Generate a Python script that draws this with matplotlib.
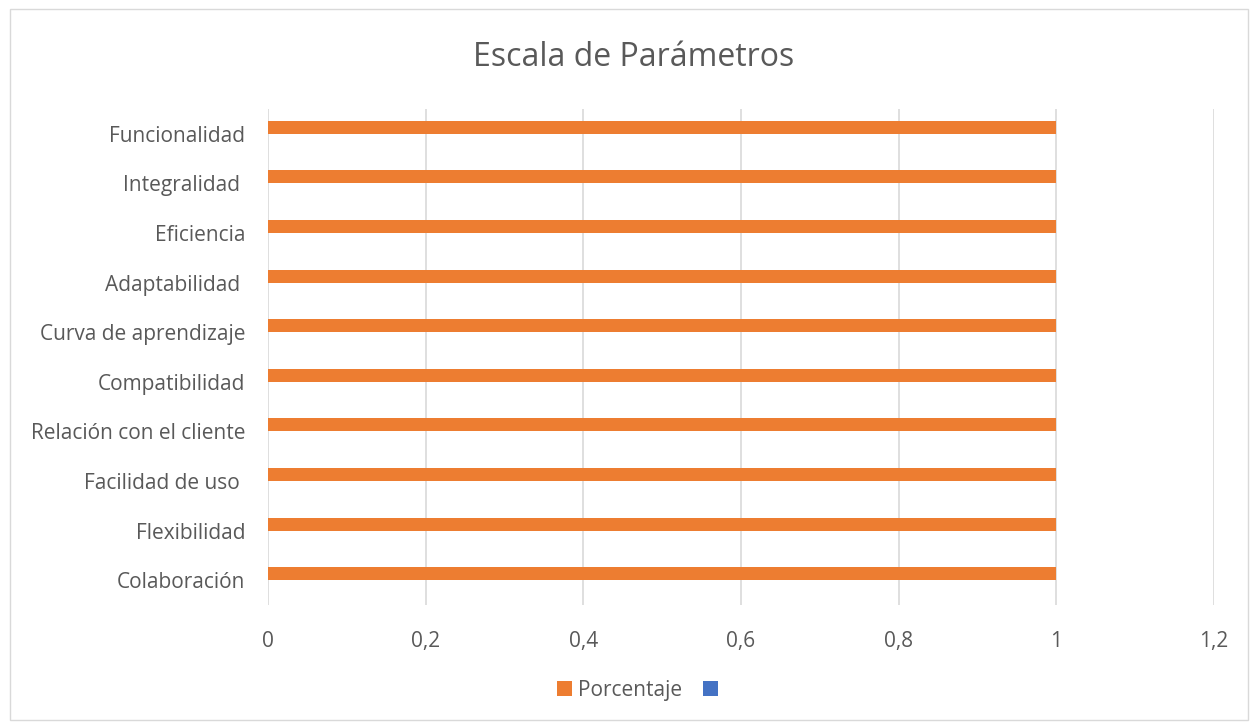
import matplotlib
matplotlib.use("Agg")
import matplotlib.pyplot as plt
from matplotlib.patches import Patch, Rectangle

categories = ["Colaboración", "Flexibilidad", "Facilidad de uso ", "Relación con el cliente",
              "Compatibilidad", "Curva de aprendizaje", "Adaptabilidad ", "Eficiencia",
              "Integralidad ", "Funcionalidad"]
porcentaje = [1, 1, 1, 1, 1, 1, 1, 1, 1, 1]
x_ticks = [0, 0.2, 0.4, 0.6, 0.8, 1.0, 1.2]
x_labels = ["0", "0,2", "0,4", "0,6", "0,8", "1", "1,2"]
series_names = ["Porcentaje", ""]

plt.rcParams['font.family'] = ['Open Sans', 'DejaVu Sans']
txt = "#595959"

fig = plt.figure(figsize=(12.5, 7.23), dpi=100)
fig.patches.append(Rectangle((0.008, 0.004), 0.99, 0.984, transform=fig.transFigure,
                             fill=False, edgecolor="#D9D9D9", linewidth=1))
ax = fig.add_axes([0.2144, 0.1632, 0.7568, 0.686])

y = list(range(len(categories)))
bh = 0.262
# clustered bars: first series sits in the upper half of each cluster, second (empty) below
ax.barh([v + bh / 2 for v in y], porcentaje, height=bh, color="#ED7D31", zorder=3)
ax.set_ylim(-0.5, len(categories) - 0.5)
ax.set_xlim(0, 1.2)
ax.set_xticks(x_ticks)
ax.set_xticklabels(x_labels, color=txt, fontsize=15)
ax.set_yticks(y)
ax.set_yticklabels(categories, color=txt, fontsize=15)
ax.tick_params(axis='both', length=0)
ax.tick_params(axis='x', pad=19)
ax.tick_params(axis='y', pad=16.5)
ax.grid(axis='x', color="#D9D9D9", linewidth=1.2, zorder=0)
for s in ax.spines.values():
    s.set_visible(False)

fig.text(0.507, 0.920, "Escala de Parámetros", ha='center', va='center', fontsize=23, color=txt)

handles = [Patch(facecolor="#ED7D31"), Patch(facecolor="#4472C4")]
fig.legend(handles, series_names, loc='center', bbox_to_anchor=(0.5125, 0.045), ncol=2,
           frameon=False, fontsize=15, labelcolor=txt, handlelength=0.7, handleheight=0.7,
           handletextpad=0.3, columnspacing=1.0)

fig.savefig("out.png", dpi=100)
